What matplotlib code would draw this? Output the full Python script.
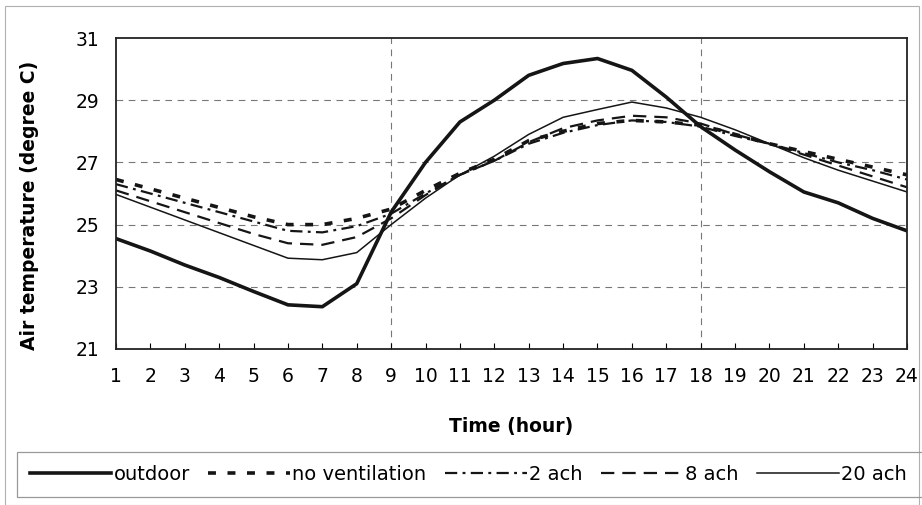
import matplotlib
matplotlib.use("Agg")
import matplotlib.pyplot as plt
from matplotlib.patches import Rectangle

plt.rcParams['font.family'] = ['DejaVu Sans']

# hourly air temperatures (degree C)
hours = list(range(1, 25))
outdoor = [24.55, 24.15, 23.7, 23.3, 22.85, 22.42, 22.36, 23.1, 25.4, 27.0, 28.3, 29.0,
           29.8, 30.18, 30.34, 29.96, 29.1, 28.15, 27.4, 26.7, 26.05, 25.7, 25.2, 24.8]
no_vent = [26.45, 26.15, 25.85, 25.55, 25.25, 25.0, 25.0, 25.2, 25.5, 26.1, 26.65, 27.1,
           27.7, 28.0, 28.25, 28.35, 28.3, 28.2, 27.9, 27.6, 27.35, 27.1, 26.85, 26.6]
ach2 = [26.3, 26.0, 25.7, 25.4, 25.1, 24.8, 24.75, 24.95, 25.35, 26.0, 26.6, 27.05,
        27.6, 27.95, 28.2, 28.35, 28.3, 28.15, 27.85, 27.6, 27.3, 27.0, 26.75, 26.45]
ach8 = [26.1, 25.75, 25.4, 25.05, 24.7, 24.4, 24.35, 24.6, 25.2, 25.95, 26.6, 27.05,
        27.65, 28.1, 28.35, 28.5, 28.45, 28.25, 27.9, 27.6, 27.25, 26.9, 26.55, 26.2]
ach20 = [25.97, 25.56, 25.15, 24.74, 24.33, 23.92, 23.87, 24.1, 25.0, 25.85, 26.6, 27.2,
         27.9, 28.45, 28.7, 28.94, 28.75, 28.45, 28.05, 27.6, 27.15, 26.75, 26.4, 26.05]
labels = ['outdoor', 'no ventilation', '2 ach', '8 ach', '20 ach']
yticks = [21, 23, 25, 27, 29, 31]

fig = plt.figure(figsize=(9.22, 5.05), dpi=100)
ax = fig.add_axes([116 / 922, 1 - 349 / 505, (907 - 116) / 922, (349 - 38) / 505])

ink = '#151515'
ax.plot(hours, outdoor, color=ink, lw=2.6, label=labels[0])
ax.plot(hours, no_vent, color=ink, lw=2.6, dashes=(2.2, 3.2), label=labels[1])
ax.plot(hours, ach2, color=ink, lw=1.6, dashes=(5.5, 2.4, 1.3, 2.4), label=labels[2])
ax.plot(hours, ach8, color=ink, lw=1.6, dashes=(6.0, 3.6), label=labels[3])
ax.plot(hours, ach20, color=ink, lw=1.1, label=labels[4])

ax.set_xlim(1, 24)
ax.set_ylim(21, 31)
ax.set_xticks(hours)
ax.set_yticks(yticks)
ax.tick_params(axis='y', length=0, pad=12, labelsize=13.5)
ax.tick_params(axis='x', direction='in', length=4, width=0.8, pad=13, labelsize=13.5)

for y in yticks[1:-1]:
    ax.axhline(y, color='#777777', lw=0.8, dashes=(6, 5), zorder=0)
for x in [9, 18]:
    ax.axvline(x, color='#777777', lw=0.8, dashes=(6, 5), zorder=0)

for s in ax.spines.values():
    s.set_linewidth(1.3)
    s.set_color('#222222')

ax.set_ylabel('Air temperature (degree C)', fontsize=13.5, fontweight='bold')
ax.yaxis.set_label_coords(-0.097, 0.463)
ax.set_xlabel('Time (hour)', fontsize=13.5, fontweight='bold')
ax.xaxis.set_label_coords(0.5, -0.219)

# outer frame and legend box
fig.patches.append(Rectangle((5 / 922, 0), 914 / 922, 499 / 505, transform=fig.transFigure,
                             fill=False, ec='#b0b0b0', lw=0.8))
fig.patches.append(Rectangle((17 / 922, 1 - 497 / 505), 1.0, 45 / 505, transform=fig.transFigure,
                             fill=False, ec='#999999', lw=0.9))

leg = fig.legend(loc='center left', bbox_to_anchor=(12 / 922, 1 - 474.5 / 505), ncol=5,
                 frameon=False, fontsize=14, handlelength=4.2, handletextpad=0.12,
                 columnspacing=0.95)

fig.savefig('out.png', dpi=100)
